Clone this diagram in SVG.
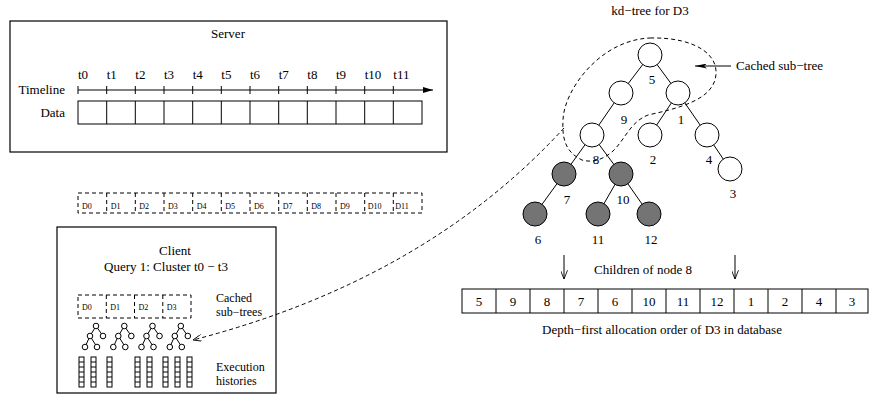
<svg xmlns="http://www.w3.org/2000/svg" width="870" height="398" viewBox="0 0 870 398" font-family="'Liberation Serif','Times New Roman',serif">
<style>
text{font-family:"Liberation Serif","Times New Roman",serif;font-size:13px;fill:#000}
.sm{font-size:8px}
.two{font-size:12px}
.box{fill:none;stroke:#000;stroke-width:1.2}
.cell{fill:#fff;stroke:#000;stroke-width:1}
.dash{fill:none;stroke:#000;stroke-width:1;stroke-dasharray:4,3}
.ln{fill:none;stroke:#000;stroke-width:1}
.wn{fill:#fff;stroke:#000;stroke-width:1}
.gn{fill:#747474;stroke:#000;stroke-width:1}
.mid{text-anchor:middle}
.end{text-anchor:end}
</style>
<defs>
<marker id="tri" viewBox="0 0 10 6" refX="10" refY="3" markerWidth="10" markerHeight="6" markerUnits="userSpaceOnUse" orient="auto">
<path d="M0,0 L10,3 L0,6 Z" fill="#000"/>
</marker>
<marker id="vee" viewBox="0 0 10 8" refX="10" refY="4" markerWidth="9" markerHeight="7" markerUnits="userSpaceOnUse" orient="auto">
<path d="M0,0 L10,4 L0,8" fill="none" stroke="#000" stroke-width="1"/>
</marker>
<marker id="thin" viewBox="0 0 12 5" refX="12" refY="2.5" markerWidth="12" markerHeight="5" markerUnits="userSpaceOnUse" orient="auto">
<path d="M0,0 L12,2.5 L0,5 L3,2.5 Z" fill="#000"/>
</marker>
<g id="icon">
<line class="ln" x1="0" y1="0" x2="-6" y2="10"/>
<line class="ln" x1="0" y1="0" x2="7" y2="10"/>
<line class="ln" x1="-6" y1="10" x2="-11" y2="21"/>
<line class="ln" x1="-6" y1="10" x2="1" y2="21"/>
<circle class="wn" cx="0" cy="0" r="2.8"/>
<circle class="wn" cx="-6" cy="10" r="2.8"/>
<circle class="wn" cx="7" cy="10" r="2.8"/>
<circle class="wn" cx="-11" cy="21" r="2.8"/>
<circle class="wn" cx="1" cy="21" r="2.8"/>
</g>
<g id="hist">
<rect class="cell" x="0" y="0" width="5" height="30"/>
<path class="ln" d="M0,5H5M0,10H5M0,15H5M0,20H5M0,25H5"/>
</g>
</defs>

<g id="server">
<rect class="box" x="10" y="21" width="437" height="131"/>
<text class="mid" x="228" y="38">Server</text>
<text class="end" x="65" y="94">Timeline</text>
<text class="end" x="65" y="117">Data</text>
<line class="ln" x1="78" y1="90" x2="433" y2="90" marker-end="url(#tri)"/>
<path class="ln" d="M78,86V94M106.7,86V94M135.3,86V94M164,86V94M192.7,86V94M221.3,86V94M250,86V94M278.7,86V94M307.3,86V94M336,86V94M364.7,86V94M393.3,86V94"/>
<g>
<text x="78" y="79">t0</text><text x="106.7" y="79">t1</text><text x="135.3" y="79">t2</text><text x="164" y="79">t3</text>
<text x="192.7" y="79">t4</text><text x="221.3" y="79">t5</text><text x="250" y="79">t6</text><text x="278.7" y="79">t7</text>
<text x="307.3" y="79">t8</text><text x="336" y="79">t9</text><text x="364.7" y="79">t10</text><text x="393.3" y="79">t11</text>
</g>
<rect class="cell" x="78" y="101" width="344" height="23"/>
<path class="ln" d="M106.7,101V124M135.3,101V124M164,101V124M192.7,101V124M221.3,101V124M250,101V124M278.7,101V124M307.3,101V124M336,101V124M364.7,101V124M393.3,101V124"/>
</g>

<g id="datasets">
<rect class="dash" x="78" y="193" width="344" height="20"/>
<path class="dash" d="M106.7,193V213M135.3,193V213M164,193V213M192.7,193V213M221.3,193V213M250,193V213M278.7,193V213M307.3,193V213M336,193V213M364.7,193V213M393.3,193V213"/>
<text class="sm" x="82" y="209">D0</text><text class="sm" x="110.7" y="209">D1</text><text class="sm" x="139.3" y="209">D2</text><text class="sm" x="168" y="209">D3</text>
<text class="sm" x="196.7" y="209">D4</text><text class="sm" x="225.3" y="209">D5</text><text class="sm" x="254" y="209">D6</text><text class="sm" x="282.7" y="209">D7</text>
<text class="sm" x="311.3" y="209">D8</text><text class="sm" x="340" y="209">D9</text><text class="sm" x="367.7" y="209">D10</text><text class="sm" x="395.3" y="209">D11</text>
</g>

<g id="client">
<rect class="box" x="57" y="227" width="219" height="166"/>
<text class="mid" x="175" y="255">Client</text>
<text class="mid" x="166" y="271">Query 1: Cluster t0 − t3</text>
<rect class="dash" x="78" y="295" width="113" height="23"/>
<path class="dash" d="M106.3,295V318M134.5,295V318M162.8,295V318"/>
<text class="sm" x="82" y="310">D0</text><text class="sm" x="110.3" y="310">D1</text><text class="sm" x="138.5" y="310">D2</text><text class="sm" x="166.8" y="310">D3</text>
<text class="two" x="216" y="302">Cached</text>
<text class="two" x="216" y="316">sub−trees</text>
<use href="#icon" x="96" y="326"/>
<use href="#icon" x="124.3" y="326"/>
<use href="#icon" x="152.5" y="326"/>
<use href="#icon" x="180.8" y="326"/>
<use href="#hist" x="79" y="357"/>
<use href="#hist" x="91" y="357"/>
<use href="#hist" x="107" y="357"/>
<use href="#hist" x="135" y="357"/>
<use href="#hist" x="147" y="357"/>
<use href="#hist" x="163" y="357"/>
<use href="#hist" x="175" y="357"/>
<use href="#hist" x="187" y="357"/>
<text class="two" x="216" y="371">Execution</text>
<text class="two" x="216" y="385">histories</text>
</g>

<g id="connectors">
<path class="ln" d="M650,55L621,93M650,55L678,93M621,93L592,135M678,93L650,135M678,93L707,135M707,135L730,169M592,135L564,174M592,135L621,174M564,174L535,214M621,174L598,214M621,174L649,214"/>
<path class="dash" d="M564,128 Q425,280 193,340" marker-end="url(#vee)"/>
<line class="ln" x1="731" y1="66" x2="695" y2="66" marker-end="url(#thin)"/>
<line class="ln" x1="564" y1="255" x2="564" y2="279" marker-end="url(#vee)"/>
<line class="ln" x1="735" y1="255" x2="735" y2="279" marker-end="url(#vee)"/>
</g>

<g id="kdtree">
<text class="mid" x="650" y="15">kd−tree for D3</text>
<g id="n5"><circle class="wn" cx="650" cy="55" r="12"/><text class="mid" x="652" y="84">5</text></g>
<g id="n9"><circle class="wn" cx="621" cy="93" r="12"/><text class="mid" x="624" y="124">9</text></g>
<g id="n1"><circle class="wn" cx="678" cy="93" r="12"/><text class="mid" x="681" y="124">1</text></g>
<g id="n8"><circle class="wn" cx="592" cy="135" r="12"/><text class="mid" x="596" y="164">8</text></g>
<g id="n2"><circle class="wn" cx="650" cy="135" r="12"/><text class="mid" x="653" y="164">2</text></g>
<g id="n4"><circle class="wn" cx="707" cy="135" r="12"/><text class="mid" x="709" y="164">4</text></g>
<g id="n3"><circle class="wn" cx="730" cy="169" r="12"/><text class="mid" x="733" y="198">3</text></g>
<g id="n7"><circle class="gn" cx="564" cy="174" r="12"/><text class="mid" x="567" y="204">7</text></g>
<g id="n10"><circle class="gn" cx="621" cy="174" r="12"/><text class="mid" x="623" y="204">10</text></g>
<g id="n6"><circle class="gn" cx="535" cy="214" r="12"/><text class="mid" x="538" y="244">6</text></g>
<g id="n11"><circle class="gn" cx="598" cy="214" r="12"/><text class="mid" x="598" y="244">11</text></g>
<g id="n12"><circle class="gn" cx="649" cy="214" r="12"/><text class="mid" x="651" y="244">12</text></g>
<path class="dash" d="M650,38 C695,37 722,55 715,80 C709,100 680,108 648,115 C630,122 625,140 612,152 C602,160 592,163 582,160 C565,152 562,138 563,120 C564,90 600,40 650,38 Z"/>
<text x="736" y="70">Cached sub−tree</text>
</g>

<g id="allocation">
<text class="mid" x="643" y="274">Children of node 8</text>
<rect class="cell" x="462" y="289" width="406" height="24"/>
<path class="ln" d="M496,289V313M530,289V313M564,289V313M598,289V313M632,289V313M666,289V313M700,289V313M734,289V313M768,289V313M802,289V313M836,289V313"/>
<text class="mid" x="479" y="306">5</text><text class="mid" x="513" y="306">9</text><text class="mid" x="547" y="306">8</text><text class="mid" x="581" y="306">7</text>
<text class="mid" x="615" y="306">6</text><text class="mid" x="649" y="306">10</text><text class="mid" x="683" y="306">11</text><text class="mid" x="717" y="306">12</text>
<text class="mid" x="751" y="306">1</text><text class="mid" x="785" y="306">2</text><text class="mid" x="819" y="306">4</text><text class="mid" x="852" y="306">3</text>
<text class="mid" x="662" y="334">Depth−first allocation order of D3 in database</text>
</g>
</svg>
